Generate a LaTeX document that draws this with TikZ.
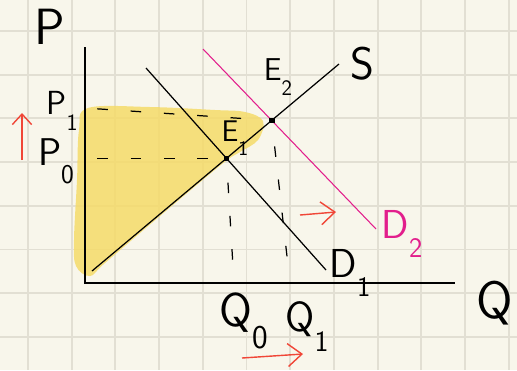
\documentclass[tikz,border=0pt]{standalone}
\usepackage{tikz}
\usetikzlibrary{positioning,arrows.meta}
\usepackage{xcolor}
\definecolor{paper}{RGB}{248,246,235}
\definecolor{gridgray}{RGB}{226,223,211}
\definecolor{hilite}{RGB}{245,219,105}
\definecolor{dpink}{RGB}{226,30,140}
\definecolor{penred}{RGB}{240,70,55}
\newcommand{\hsub}[2]{#1\raisebox{-1.1ex}{\scalebox{0.7}{#2}}}

\begin{document}
\begin{tikzpicture}[x=0.02cm, y=-0.02cm,
    curve/.style={line width=0.7pt},
    guide/.style={line width=0.7pt, dash pattern=on 6pt off 13pt},
    dot/.style={fill, inner sep=1.6pt, minimum size=0pt},
    lbl/.style={font=\sffamily\fontsize{#1}{#1}\selectfont, inner sep=0pt},
    lbl/.default=22,
    pen/.style={penred, line width=0.8pt, -{Straight Barb[length=8pt,width=13pt]}}]
  \useasboundingbox[fill=paper] (0,0) rectangle (517,370);
  % squared paper
  \foreach \k in {0,...,11}
    \draw[gridgray, line width=1.1pt] ({28+43.7*\k},0) -- ++(0,370);
  \foreach \k in {0,...,7}
    \draw[gridgray, line width=1.1pt] (0,{31+43.7*\k}) -- ++(517,0);
  % highlighted area
  \fill[hilite, fill opacity=0.85] plot[smooth cycle, tension=0.6] coordinates {
    (88,108) (150,107) (215,110) (245,112) (263,121) (258,140) (240,152)
    (222,164) (160,216) (105,263) (90,276) (76,266) (74,240) (77,180) (79,130)};
  % axes and curves
  \coordinate (O) at (85,283);
  \coordinate (ytop) at (85,47);
  \coordinate (xend) at (455,283);
  \coordinate (s0) at (92,271);   \coordinate (s1) at (339,64);
  \coordinate (d1a) at (146,68);  \coordinate (d1b) at (326,270);
  \coordinate (d2a) at (203,49);  \coordinate (d2b) at (376,229);
  \draw[curve] (ytop) -- (O) -- (xend);
  \draw[curve] (s0) -- (s1);
  \draw[curve] (d1a) -- (d1b);
  \draw[dpink, line width=0.6pt] (d2a) -- (d2b);
  \node[dot] (E1) at (intersection of s0--s1 and d1a--d1b) {};
  \node[dot] (E2) at (intersection of s0--s1 and d2a--d2b) {};
  % guide lines
  \coordinate (p0) at (E1 -| O);
  \coordinate (p1) at (85,108);
  \coordinate (q0) at (234,283);
  \coordinate (q1) at (290,283);
  \draw[guide, shorten <=7pt, shorten >=5pt] (p0) -- (E1);
  \draw[guide, shorten <=7pt, shorten >=12pt] (p1) -- (E2);
  \draw[guide, shorten <=12pt, shorten >=9pt] (E1) -- (q0);
  \draw[guide, shorten <=13pt, shorten >=8pt] (E2) -- (q1);
  % labels
  \node[lbl=29] (P) at (50,27) {P};
  \node[lbl=30] (Q) at (495,303) {Q};
  \node[lbl=26] (S) at (362,64) {S};
  \node[lbl=17] (e1) at (235,138) {\hsub{E}{1}};
  \node[lbl=18] (e2) at (278,77) {\hsub{E}{2}};
  \node[lbl=19] (P1) at (62,111) {\hsub{P}{1}};
  \node[lbl=22] (P0) at (56,161) {\hsub{P}{0}};
  \node[lbl=27] (Q0) at (244,321) {\hsub{Q}{0}};
  \node[lbl=24] (Q1) at (307,327) {\hsub{Q}{1}};
  \node[lbl=23] (D1) at (350,273) {\hsub{D}{1}};
  \node[lbl=23, dpink] (D2) at (402,234) {\hsub{D}{2}};
  % shifts
  \draw[pen, -{Straight Barb[length=6pt,width=11pt]}] (22,160) -- (22,113);
  \draw[pen] (300,215) -- (336,212);
  \draw[pen] (242,358) -- (303,354);
\end{tikzpicture}
\end{document}
